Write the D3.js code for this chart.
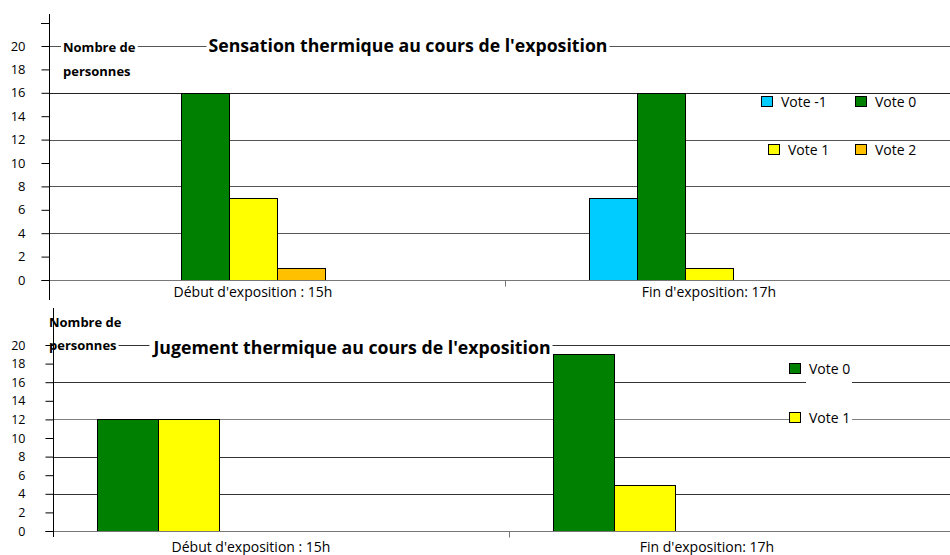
<!DOCTYPE html>
<html>
<head>
<meta charset="utf-8">
<script src="https://cdn.jsdelivr.net/npm/d3@7"></script>
<style>
  body { margin: 0; background: #fff; }
  svg { display: block; font-family: "Open Sans", sans-serif; }
</style>
</head>
<body>
<svg id="chart" width="950" height="555"></svg>
<script>
// Categories (time points) shared by both panels
const categories = ["Début d'exposition : 15h", "Fin d'exposition: 17h"];

// Panel 1: thermal sensation votes (number of people)
const sensationSeries = ["Vote -1", "Vote 0", "Vote 1", "Vote 2"];
const sensationDebut = [0, 16, 7, 1];
const sensationFin = [7, 16, 1, 0];

// Panel 2: thermal judgement votes (number of people)
const jugementSeries = ["Vote 0", "Vote 1"];
const jugementDebut = [12, 12];
const jugementFin = [19, 5];

// Axis ticks
const yTickValues = [0, 2, 4, 6, 8, 10, 12, 14, 16, 18, 20];
const gridValues = [4, 8, 12, 16, 20];

const voteColors = {
  "Vote -1": "#00CCFF",
  "Vote 0": "#008000",
  "Vote 1": "#FFFF00",
  "Vote 2": "#FFC000"
};

const FONT = "'Open Sans', sans-serif";
const svg = d3.select("#chart");
const W = 950;

function drawPanel(cfg) {
  const g = svg.append("g");
  const y = d3.scaleLinear().domain([0, 20]).range([cfg.y0, cfg.y20]);
  const x0 = d3.scaleBand().domain(categories).range([cfg.left, cfg.left + 2 * cfg.band]);
  const x1 = d3.scaleBand().domain(cfg.series).range(cfg.inner);

  // horizontal gridlines
  g.selectAll("line.grid").data(gridValues).join("line")
    .attr("class", "grid")
    .attr("x1", cfg.left).attr("x2", W)
    .attr("y1", d => Math.round(y(d)) + 0.5).attr("y2", d => Math.round(y(d)) + 0.5)
    .attr("stroke", d => cfg.gridColor(d)).attr("stroke-width", 1);

  // axis caption on a white backdrop
  const capLines = ["Nombre de", "personnes"];
  const cap = g.append("g");
  const capText = cap.selectAll("text").data(capLines).join("text")
    .attr("x", cfg.capX).attr("y", (d, i) => cfg.capY + i * cfg.capGap)
    .attr("font-size", cfg.capFont).attr("font-weight", "bold").attr("fill", "#000")
    .text(d => d);
  capText.each(function () {
    const b = this.getBBox();
    cap.insert("rect", "text")
      .attr("x", b.x - 2).attr("y", b.y - 1).attr("width", b.width + 4).attr("height", b.height + 2)
      .attr("fill", "#fff");
  });

  // panel title on a white backdrop
  const title = g.append("g");
  const tText = title.append("text")
    .attr("x", cfg.titleX).attr("y", cfg.titleY)
    .attr("text-anchor", "middle")
    .attr("font-size", cfg.titleFont).attr("font-weight", "bold").attr("fill", "#000")
    .text(cfg.title);
  const tb = tText.node().getBBox();
  title.insert("rect", "text")
    .attr("x", tb.x - 2).attr("y", tb.y).attr("width", tb.width + 4).attr("height", tb.height)
    .attr("fill", "#fff");

  // bars
  const rows = categories.map((c, i) => ({ cat: c, values: cfg.values[i] }));
  g.selectAll("g.cat").data(rows).join("g")
    .attr("class", "cat")
    .attr("transform", d => `translate(${x0(d.cat)},0)`)
    .selectAll("rect")
    .data(d => cfg.series.map((s, j) => ({ s, v: d.values[j] })).filter(e => e.v > 0))
    .join("rect")
    .attr("x", d => x1(d.s) + 0.5)
    .attr("width", x1.bandwidth())
    .attr("y", d => Math.round(y(d.v)) + 0.5)
    .attr("height", d => Math.round(y(0)) - Math.round(y(d.v)))
    .attr("fill", d => voteColors[d.s])
    .attr("stroke", "#000").attr("stroke-width", 1);

  // x axis baseline and category divider tick
  const y0 = Math.round(y(0)) + 0.5;
  g.append("line").attr("x1", cfg.left - 8).attr("x2", W).attr("y1", y0).attr("y2", y0)
    .attr("stroke", "#777");
  g.append("line")
    .attr("x1", Math.round(x0(categories[1])) + 0.5).attr("x2", Math.round(x0(categories[1])) + 0.5)
    .attr("y1", y0).attr("y2", y0 + 6).attr("stroke", "#777");

  // category labels
  g.selectAll("text.cat").data(categories).join("text")
    .attr("class", "cat")
    .attr("x", d => x0(d) + x0.bandwidth() / 2 + cfg.labelShift)
    .attr("y", cfg.labelY)
    .attr("text-anchor", "middle")
    .attr("font-size", cfg.labelFont).attr("fill", "#000")
    .text(d => d);

  // y axis
  const yAxis = d3.axisLeft(y).tickValues(yTickValues).tickSize(8).tickSizeOuter(0)
    .tickPadding(cfg.tickPad);
  const ya = g.append("g").attr("transform", `translate(${cfg.left + 0.5},0)`).call(yAxis);
  ya.select(".domain").remove();
  ya.selectAll(".tick line").attr("stroke", "#000");
  ya.selectAll(".tick text").attr("font-size", cfg.tickFont).attr("fill", "#000")
    .attr("font-family", FONT);
  g.append("line")
    .attr("x1", cfg.left + 0.5).attr("x2", cfg.left + 0.5)
    .attr("y1", cfg.axisTop).attr("y2", cfg.axisBottom)
    .attr("stroke", "#000");
  if (cfg.extraTick !== undefined) {
    const ty = Math.round(y(cfg.extraTick)) + 0.5;
    g.append("line").attr("x1", cfg.left - 8).attr("x2", cfg.left).attr("y1", ty).attr("y2", ty)
      .attr("stroke", "#000");
  }

  // legend
  const lg = g.append("g");
  cfg.legend.forEach(item => {
    if (item.gap) {
      lg.append("rect").attr("x", item.gap[0]).attr("y", item.gap[1])
        .attr("width", item.gap[2]).attr("height", item.gap[3]).attr("fill", "#fff");
    }
    lg.append("rect")
      .attr("x", item.x + 0.5).attr("y", item.y - 5.5).attr("width", 11).attr("height", 10)
      .attr("fill", voteColors[item.s]).attr("stroke", "#000");
    lg.append("text")
      .attr("x", item.x + 20).attr("y", item.y + 5)
      .attr("font-size", cfg.legendFont).attr("fill", "#000")
      .text(item.s);
  });
  return g;
}

drawPanel({
  series: sensationSeries,
  values: [sensationDebut, sensationFin],
  left: 49, band: 456, inner: [84, 276],
  y0: 280, y20: 46,
  axisTop: 14, axisBottom: 300, extraTick: 22,
  gridColor: d => (d === 16 ? "#222" : "#555"),
  tickPad: 16, tickFont: 13,
  labelY: 297, labelShift: -24, labelFont: 14,
  capX: 63, capY: 52, capGap: 24, capFont: 13,
  title: "Sensation thermique au cours de l'exposition", titleX: 408, titleY: 52, titleFont: 17.7,
  legendFont: 14,
  legend: [
    { s: "Vote -1", x: 761, y: 102 },
    { s: "Vote 0", x: 855, y: 102 },
    { s: "Vote 1", x: 768, y: 150 },
    { s: "Vote 2", x: 855, y: 150 }
  ]
});

drawPanel({
  series: jugementSeries,
  values: [jugementDebut, jugementFin],
  left: 53, band: 456, inner: [44, 166],
  y0: 531, y20: 345,
  axisTop: 308, axisBottom: 537,
  gridColor: d => (d === 12 ? "#808080" : "#333"),
  tickPad: 20, tickFont: 12.5,
  labelY: 552, labelShift: -30, labelFont: 14,
  capX: 49, capY: 327, capGap: 23, capFont: 13,
  title: "Jugement thermique au cours de l'exposition", titleX: 352, titleY: 354, titleFont: 17.7,
  legendFont: 14,
  legend: [
    { s: "Vote 0", x: 789, y: 369, gap: [806, 372, 46, 14] },
    { s: "Vote 1", x: 789, y: 418, gap: [801, 411, 51, 14] }
  ]
});
</script>
</body>
</html>
